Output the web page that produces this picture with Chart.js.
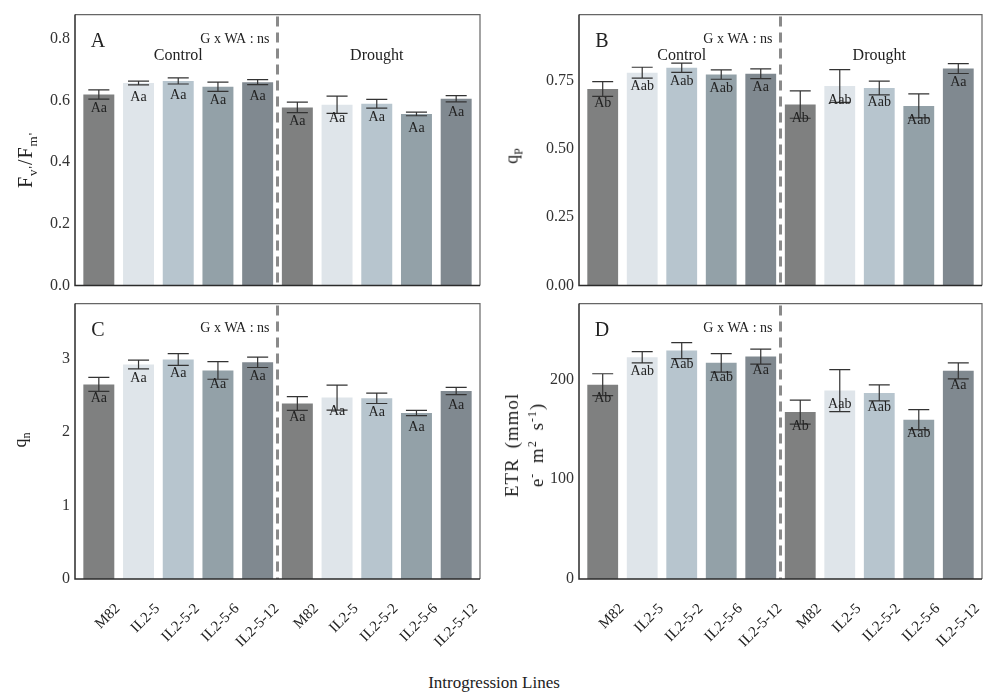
<!DOCTYPE html>
<html>
<head>
<meta charset="utf-8">
<script src="https://cdn.jsdelivr.net/npm/chart.js@4.4.0/dist/chart.umd.min.js"></script>
<style>
  body { margin: 0; background: #fff; width: 989px; height: 698px; position: relative; overflow: hidden;
         font-family: 'Liberation Serif', serif; color: #222; }
  .panel { position: absolute; }
  .ytitle { position: absolute; transform: translate(-50%, -50%) rotate(-90deg); white-space: nowrap;
            font-size: 18px; color: #222; text-align: center; line-height: 25px; }
  .ytitle sub, .ytitle sup { font-size: 12px; line-height: 0; }
  #ftitle { font-size: 20px; letter-spacing: 1px; }
  #ftitle sub { font-size: 13px; }
  #etrtitle { font-size: 19px; letter-spacing: 1px; word-spacing: 4px; }
  #xtitle { position: absolute; left: 494px; top: 683px; transform: translate(-50%, -50%);
            font-size: 17px; white-space: nowrap; color: #222; }
</style>
</head>
<body>
<div class="panel" style="left:0;top:0;width:490px;height:300px"><canvas id="chartA"></canvas></div>
<div class="panel" style="left:500px;top:0;width:489px;height:300px"><canvas id="chartB"></canvas></div>
<div class="panel" style="left:0;top:289px;width:490px;height:361px"><canvas id="chartC"></canvas></div>
<div class="panel" style="left:500px;top:289px;width:489px;height:361px"><canvas id="chartD"></canvas></div>

<div class="ytitle" id="ftitle" style="left:25px;top:160px">F<sub>v'</sub>/F<sub>m'</sub></div>
<div class="ytitle" style="left:512px;top:156px">q<sub>P</sub></div>
<div class="ytitle" style="left:20px;top:440px">q<sub>n</sub></div>
<div class="ytitle" id="etrtitle" style="left:524px;top:445px">ETR (mmol<br>e<sup>-</sup> m<sup>2</sup> s<sup>-1</sup>)</div>
<div id="xtitle">Introgression Lines</div>

<script>
Chart.defaults.font.family = "'Liberation Serif', serif";
Chart.defaults.color = '#333';

// --- dados ---
const genotypes = ['M82', 'IL2-5', 'IL2-5-2', 'IL2-5-6', 'IL2-5-12'];
const xLabels = genotypes.concat(genotypes);
const groups = ['Control', 'Drought'];
const barColors = ['#7f8080', '#dfe5ea', '#b7c5ce', '#93a1a8', '#808990'];

// A: Fv'/Fm'
const fvfmMean = [0.619, 0.656, 0.663, 0.644, 0.659, 0.577, 0.586, 0.589, 0.556, 0.605];
const fvfmErr = [0.015, 0.006, 0.010, 0.015, 0.008, 0.017, 0.028, 0.014, 0.006, 0.010];
const fvfmLetters = ['Aa', 'Aa', 'Aa', 'Aa', 'Aa', 'Aa', 'Aa', 'Aa', 'Aa', 'Aa'];
const fvfmTicks = [0, 0.2, 0.4, 0.6, 0.8];

// B: qP
const qpMean = [0.720, 0.780, 0.798, 0.773, 0.776, 0.663, 0.731, 0.724, 0.658, 0.795];
const qpErr = [0.027, 0.020, 0.017, 0.017, 0.018, 0.050, 0.060, 0.025, 0.044, 0.018];
const qpLetters = ['Ab', 'Aab', 'Aab', 'Aab', 'Aa', 'Ab', 'Aab', 'Aab', 'Aab', 'Aa'];
const qpTicks = [0, 0.25, 0.5, 0.75];

// C: qn
const qnMean = [2.65, 2.92, 2.99, 2.84, 2.95, 2.39, 2.47, 2.46, 2.26, 2.56];
const qnErr = [0.095, 0.06, 0.08, 0.12, 0.07, 0.094, 0.17, 0.07, 0.035, 0.05];
const qnLetters = ['Aa', 'Aa', 'Aa', 'Aa', 'Aa', 'Aa', 'Aa', 'Aa', 'Aa', 'Aa'];
const qnTicks = [0, 1, 2, 3];

// D: ETR
const etrMean = [194.7, 222.2, 228.9, 216.6, 222.9, 167.3, 188.8, 186.5, 159.7, 208.6];
const etrErr = [11, 5.7, 8, 9.3, 7.5, 12, 21, 8, 10, 8];
const etrLetters = ['Ab', 'Aab', 'Aab', 'Aab', 'Aa', 'Ab', 'Aab', 'Aab', 'Aab', 'Aa'];
const etrTicks = [0, 100, 200];

// barras de erro, letras, linha tracejada, moldura e textos do painel
const panelDeco = {
    id: 'panelDeco',
    afterDatasetsDraw(chart, args, opts) {
        const { ctx, chartArea: a, scales: { x, y } } = chart;
        const meta = chart.getDatasetMeta(0);
        ctx.save();

        ctx.strokeStyle = '#333';
        ctx.lineWidth = 1.2;
        opts.means.forEach((m, i) => {
            const bar = meta.data[i];
            const half = bar.width * 0.34;
            const yt = y.getPixelForValue(m + opts.errs[i]);
            const yb = y.getPixelForValue(m - opts.errs[i]);
            ctx.beginPath();
            ctx.moveTo(bar.x, yt); ctx.lineTo(bar.x, yb);
            ctx.moveTo(bar.x - half, yt); ctx.lineTo(bar.x + half, yt);
            ctx.moveTo(bar.x - half, yb); ctx.lineTo(bar.x + half, yb);
            ctx.stroke();
        });

        ctx.fillStyle = '#222';
        ctx.font = "14px 'Liberation Serif'";
        ctx.textAlign = 'center';
        ctx.textBaseline = 'middle';
        opts.letters.forEach((t, i) => {
            const bar = meta.data[i];
            ctx.fillText(t, bar.x, bar.y + 14);
        });

        const xd = x.getPixelForValue(5.5);
        ctx.setLineDash([10, 6]);
        ctx.strokeStyle = '#8a8a8a';
        ctx.lineWidth = 3;
        ctx.beginPath();
        ctx.moveTo(xd, a.top + 2); ctx.lineTo(xd, a.bottom);
        ctx.stroke();
        ctx.setLineDash([]);

        ctx.strokeStyle = '#666';
        ctx.lineWidth = 1.2;
        ctx.beginPath();
        ctx.moveTo(a.left, a.top); ctx.lineTo(a.right, a.top); ctx.lineTo(a.right, a.bottom);
        ctx.stroke();
        ctx.strokeStyle = '#2b2b2b';
        ctx.lineWidth = 1.5;
        ctx.beginPath();
        ctx.moveTo(a.left, a.top); ctx.lineTo(a.left, a.bottom); ctx.lineTo(a.right, a.bottom);
        ctx.stroke();

        ctx.fillStyle = '#222';
        ctx.font = "20px 'Liberation Serif'";
        ctx.textAlign = 'center';
        ctx.fillText(opts.tag, a.left + 23, a.top + 27);

        ctx.font = "14px 'Liberation Serif'";
        ctx.textAlign = 'right';
        ctx.fillText('G x WA : ns', xd - 8, a.top + 25);

        if (opts.showGroups) {
            ctx.font = "16px 'Liberation Serif'";
            ctx.textAlign = 'center';
            ctx.fillText(groups[0], x.getPixelForValue(3), a.top + 41);
            ctx.fillText(groups[1], x.getPixelForValue(8), a.top + 41);
        }
        ctx.restore();
    }
};

function desenharPainel(id, cfg) {
    new Chart(document.getElementById(id), {
        type: 'bar',
        data: {
            datasets: [{
                data: cfg.means.map((v, i) => ({ x: i + 1, y: v })),
                backgroundColor: barColors.concat(barColors),
                borderWidth: 0,
                categoryPercentage: 1,
                barPercentage: 0.78
            }]
        },
        options: {
            responsive: true,
            maintainAspectRatio: false,
            animation: false,
            layout: { padding: { top: cfg.padTop, right: cfg.padRight, left: 0, bottom: 0 } },
            plugins: {
                legend: { display: false },
                tooltip: { enabled: false },
                panelDeco: {
                    means: cfg.means, errs: cfg.errs, letters: cfg.letters,
                    tag: cfg.tag, showGroups: cfg.showGroups
                }
            },
            scales: {
                x: {
                    type: 'linear',
                    min: 0.4,
                    max: 10.6,
                    offset: false,
                    grid: { display: false, drawTicks: false },
                    border: { display: false },
                    afterBuildTicks: s => { s.ticks = xLabels.map((_, i) => ({ value: i + 1 })); },
                    afterFit: s => {
                        s.height = cfg.xHeight;
                        s.paddingLeft = 0;
                        s.paddingRight = 0;
                    },
                    ticks: {
                        display: cfg.showX,
                        autoSkip: false,
                        maxRotation: 45,
                        minRotation: 45,
                        labelOffset: 19,
                        padding: 21,
                        color: '#222',
                        font: { size: 15 },
                        callback: v => xLabels[Math.round(v) - 1]
                    }
                },
                y: {
                    min: 0,
                    max: cfg.yMax,
                    grid: { display: false, drawTicks: false },
                    border: { display: false },
                    afterBuildTicks: s => { s.ticks = cfg.yTicks.map(v => ({ value: v })); },
                    afterFit: s => { s.width = cfg.yWidth; },
                    ticks: {
                        padding: 5,
                        color: '#333',
                        font: { size: 16 },
                        callback: v => Number(v).toFixed(cfg.decimals)
                    }
                }
            }
        },
        plugins: [panelDeco]
    });
}

desenharPainel('chartA', { means: fvfmMean, errs: fvfmErr, letters: fvfmLetters, yTicks: fvfmTicks,
    yMax: 0.878, decimals: 1, tag: 'A', showGroups: true, showX: false,
    padTop: 12, padRight: 10, yWidth: 75, xHeight: 10 });
desenharPainel('chartB', { means: qpMean, errs: qpErr, letters: qpLetters, yTicks: qpTicks,
    yMax: 0.993, decimals: 2, tag: 'B', showGroups: true, showX: false,
    padTop: 12, padRight: 7, yWidth: 79, xHeight: 10 });
desenharPainel('chartC', { means: qnMean, errs: qnErr, letters: qnLetters, yTicks: qnTicks,
    yMax: 3.75, decimals: 0, tag: 'C', showGroups: false, showX: true,
    padTop: 12, padRight: 10, yWidth: 75, xHeight: 71 });
desenharPainel('chartD', { means: etrMean, errs: etrErr, letters: etrLetters, yTicks: etrTicks,
    yMax: 276, decimals: 0, tag: 'D', showGroups: false, showX: true,
    padTop: 12, padRight: 7, yWidth: 79, xHeight: 71 });
</script>
</body>
</html>
